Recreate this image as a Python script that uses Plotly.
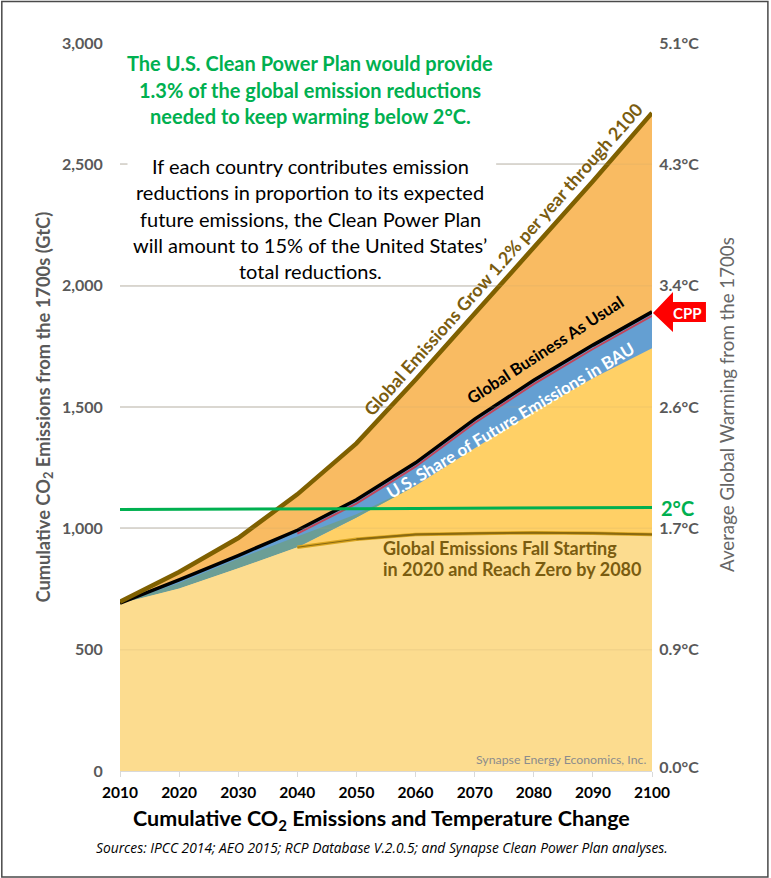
import plotly.graph_objects as go

years = [2010, 2020, 2030, 2040, 2050, 2060, 2070, 2080, 2090, 2100]
grow_high = [697, 820, 960, 1140, 1350, 1612, 1885, 2155, 2430, 2712]
bau = [692, 788, 888, 992, 1118, 1270, 1450, 1610, 1755, 1892]
bau_us_top = [690, 778, 878, 978, 1102, 1254, 1434, 1594, 1739, 1876]
blue_bottom = [690, 752, 835, 922, 1045, 1175, 1330, 1480, 1618, 1742]
overlap_top = [690, 775, 875, 965, 1058, 1175, 1330, 1480, 1618, 1742]
fall_low = [690, 752, 835, 922, 955, 975, 980, 982, 980, 975]
two_deg = [1078, 1078, 1079, 1080, 1081, 1082, 1083, 1084, 1085, 1086]

y_ticks = [0, 500, 1000, 1500, 2000, 2500, 3000]
y_ticklabels = ["0", "500", "1,000", "1,500", "2,000", "2,500", "3,000"]
temp_pos = [15, 500, 1000, 1500, 2000, 2500, 3000]
temp_labels = ["0.0°C", "0.9°C", "1.7°C", "2.6°C", "3.4°C", "4.3°C", "5.1°C"]
x_ticks = [2010, 2020, 2030, 2040, 2050, 2060, 2070, 2080, 2090, 2100]
headline = ["The U.S. Clean Power Plan would provide", "1.3% of the global emission reductions",
            "needed to keep warming below 2°C."]
paragraph = ["If each country contributes emission", "reductions in proportion to its expected",
             "future emissions, the Clean Power Plan", "will amount to 15% of the United States’",
             "total reductions."]
fall_note = ["Global Emissions Fall Starting", "in 2020 and Reach Zero by 2080"]

W, H = 771, 878
L, R, T, B = 119.5, 652.0, 43.0, 771.0
FONT = "Lato"
GREY = "#595959"
BROWN = "#7A5C10"
GREEN = "#00B050"


def px(x):
    return (x - L) / (R - L)


def py(y):
    return (B - y) / (B - T)


fig = go.Figure()


def area(y, color, fill="tozeroy"):
    fig.add_trace(go.Scatter(x=years, y=y, mode="lines", line=dict(width=0, color=color),
                             fill=fill, fillcolor=color, hoverinfo="skip", showlegend=False))


def line(x, y, color, width, yaxis="y"):
    fig.add_trace(go.Scatter(x=x, y=y, mode="lines", line=dict(width=width, color=color),
                             hoverinfo="skip", showlegend=False, yaxis=yaxis))


area(grow_high, "#F9BB62")
area(bau, "#649FD2")
area(blue_bottom, "#FFD066")
area(blue_bottom, "rgba(0,0,0,0)", fill="none")
area(overlap_top, "#6B9E96", fill="tonexty")
area(fall_low, "#FCDC8F")
line(years[3:], fall_low[3:], "#D9A520", 3.5)
line(years[3:], fall_low[3:], "#8A6A10", 1.2)
line(years[4:], fall_low[4:], "#8A6A10", 2)
line(years[3:], bau_us_top[3:], "#C2455A", 2)
line(years, bau, "#000000", 3.5)
line(years, grow_high, "#7F6000", 4.5)
line(years, two_deg, GREEN, 3, yaxis="y2")

shapes = []
for v in y_ticks[1:-1]:
    shapes.append(dict(type="line", xref="x", yref="y", x0=2010, x1=2100, y0=v, y1=v, layer="above",
                       line=dict(color="rgba(190,160,110,0.15)", width=1.5)))
# white patch that interrupts the 2,500 gridline behind the paragraph
shapes.append(dict(type="rect", xref="paper", yref="paper", x0=px(127), x1=px(496), y0=py(169), y1=py(159),
                   fillcolor="#FFFFFF", line=dict(width=0), layer="above"))
# CPP arrow
arrow = [(653, 313), (673, 292), (673, 302), (706, 302), (706, 322), (673, 322), (673, 332)]
path = "M " + " L ".join(f"{px(a):.5f} {py(b):.5f}" for a, b in arrow) + " Z"
shapes.append(dict(type="path", xref="paper", yref="paper", path=path, fillcolor="#FF0000",
                   line=dict(width=0), layer="above"))
# frame
shapes.append(dict(type="rect", xref="paper", yref="paper", x0=px(1.2), x1=px(768), y0=py(877), y1=py(1.5),
                   line=dict(color="#4A4A4A", width=1.5), fillcolor="rgba(0,0,0,0)", layer="above"))


def note(x, y, text, size, color, bold=False, angle=0, align="center", xanchor="center", italic=False, **kw):
    return dict(xref="paper", yref="paper", x=px(x), y=py(y), text=text, showarrow=False, textangle=angle,
                align=align, xanchor=xanchor, yanchor="middle",
                font=dict(family=kw.pop("family", FONT), size=size, color=color,
                          weight="bold" if bold else "normal", style="italic" if italic else "normal"), **kw)


annotations = []
for i, t in enumerate(headline):
    annotations.append(note(310, 63.3 + 26.6 * i, t, 20, GREEN, bold=True))
for i, t in enumerate(paragraph):
    annotations.append(note(310, 166 + 26.3 * i, t, 20, "#000000"))
for i, t in enumerate(fall_note):
    annotations.append(note(381, 548 + 20.5 * i, t, 18, BROWN, bold=True, align="left", xanchor="left"))
annotations += [
    note(503, 259, "Global Emissions Grow 1.2% per year through 2100", 18, BROWN, bold=True, angle=-48.5),
    note(545, 350, "Global Business As Usual", 16.5, "#000000", bold=True, angle=-33),
    note(510, 421, "U.S. Share of Future Emissions in BAU", 17, "#FFFFFF", bold=True, angle=-31),
    note(648, 759, "Synapse Energy Economics, Inc.", 12.3, "#8C8C8C", xanchor="right"),
    note(688, 313, "CPP", 15, "#FFFFFF", bold=True),
    note(678, 508, "2°C", 20, GREEN, bold=True),
    note(43, 407, "Cumulative CO<sub>2</sub> Emissions from the 1700s (GtC)", 18.3, GREY, bold=True, angle=-90),
    note(727, 404, "Average Global Warming from the 1700s", 18.7, "#666666", angle=-90),
    note(381, 819, "Cumulative CO<sub>2</sub> Emissions and Temperature Change", 21.5, "#000000", bold=True),
    note(382, 847, "Sources: IPCC 2014; AEO 2015; RCP Database V.2.0.5; and Synapse Clean Power Plan analyses.",
         13.8, "#000000", italic=True, family="Open Sans"),
]

fig.update_layout(
    width=W, height=H, autosize=False,
    margin=dict(l=L, r=W - R, t=T, b=H - B, pad=0),
    paper_bgcolor="#FFFFFF", plot_bgcolor="#FFFFFF", showlegend=False,
    shapes=shapes, annotations=annotations,
    xaxis=dict(range=[2010, 2100], tickvals=x_ticks, ticktext=[str(v) for v in x_ticks],
               ticks="outside", ticklen=5, tickcolor="#D9D9D9", showgrid=False, zeroline=False,
               showline=True, linecolor="#D9D9D9", linewidth=1, ticklabelstandoff=2,
               tickfont=dict(family=FONT, size=15.5, color="#000000", weight="bold")),
    yaxis=dict(range=[0, 3000], tickvals=y_ticks, ticktext=y_ticklabels, showgrid=True,
               gridcolor="#DEDEDE", gridwidth=1.5, zeroline=False, showline=False,
               ticks="outside", ticklen=13, tickcolor="rgba(0,0,0,0)",
               tickfont=dict(family=FONT, size=16, color=GREY, weight="bold")),
    yaxis2=dict(range=[0, 3000], overlaying="y", side="right", tickvals=temp_pos, ticktext=temp_labels,
                showgrid=False, zeroline=False, showline=False, ticks="outside", ticklen=3,
                tickcolor="rgba(0,0,0,0)",
                tickfont=dict(family=FONT, size=16, color=GREY, weight="bold")),
)

fig.write_html("out.html", config=dict(displayModeBar=False),
               post_script="document.body.style.margin='0';")
